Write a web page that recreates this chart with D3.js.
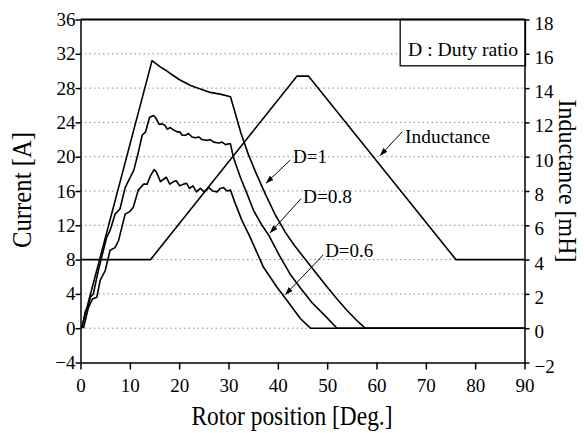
<!DOCTYPE html>
<html>
<head>
<meta charset="utf-8">
<script src="https://cdn.jsdelivr.net/npm/d3@7"></script>
<style>
      body { margin: 0; background: #fff; }
      svg { display: block; }
      text { font-family: "Liberation Serif", "Times New Roman", serif; }
</style>
</head>
<body>
<script>
// current curves, [rotor position deg, current A]
const dutyOne = [
      [0.2, 0], [14.5, 31.2], [16.1, 30.5], [17.5, 30.0], [18.2, 29.7], [20, 29.0],
      [22.3, 28.3], [24.3, 27.9], [26.3, 27.5], [28.3, 27.3], [30.4, 27.0],
      [31.5, 24.8], [32.5, 22.8], [34, 20.3], [35.5, 18.2], [37.5, 15.6], [39.5, 13.2],
      [41.5, 11.2], [43.3, 9.7], [45.2, 8.3], [47.5, 6.6], [50, 4.8], [52, 3.4],
      [54, 2.1], [56, 0.9], [57.7, 0], [90, 0]
];
const dutyEight = [
      [0.3, 0], [1.0, 2.0], [1.5, 2.5], [2.0, 3.6], [2.6, 4.0], [3.6, 6.7], [4.3, 8.3],
      [5.3, 10.6], [6.0, 11.4], [7.0, 13.3], [8.0, 13.9], [9.05, 16.4], [10.0, 17.5],
      [10.8, 18.4], [11.8, 20.7], [12.5, 22.5], [13.2, 22.9], [14.0, 24.6], [14.8, 24.8],
      [15.3, 24.5], [15.9, 23.8], [16.7, 23.8], [17.2, 23.6], [17.6, 23.2], [18.2, 23.4],
      [18.9, 23.1], [19.6, 22.9], [20.1, 22.9], [20.6, 22.5], [21.3, 22.5], [21.9, 22.7],
      [22.6, 22.3], [23.3, 22.2], [24.0, 22.3], [24.6, 22.0], [25.7, 21.9], [26.3, 22.0],
      [27.0, 21.7], [28.0, 21.6], [28.7, 21.7], [29.4, 21.4], [30.0, 21.5], [30.4, 21.5],
      [31.0, 19.9], [32.4, 17.6], [33.75, 15.7], [35.1, 13.7], [36.8, 12.0], [38.2, 10.8],
      [40.3, 8.5], [42.5, 6.3], [44.7, 4.6], [46.9, 3.0], [49.5, 1.5], [52, 0], [90, 0]
];
const dutySix = [
      [0.6, 0], [1.6, 2.4], [2.4, 3.4], [3.3, 3.6], [4.0, 5.6], [5.0, 6.7], [6.0, 9.1],
      [7.0, 9.4], [7.7, 10.2], [9.05, 13.3], [10.0, 13.6], [10.7, 14.1], [11.7, 16.1],
      [12.8, 16.8], [13.5, 16.8], [14.2, 17.8], [14.9, 18.5], [15.4, 18.2], [16.2, 17.1],
      [16.9, 17.4], [17.4, 17.6], [18.1, 16.8], [18.9, 17.1], [19.4, 17.2], [20.1, 16.6],
      [20.9, 16.8], [21.5, 16.9], [22.1, 16.3], [22.8, 16.6], [23.5, 15.9], [24.3, 16.3],
      [25.1, 15.9], [26.0, 16.4], [26.8, 16.0], [27.7, 15.9], [28.3, 16.3], [29.0, 16.4],
      [29.7, 16.0], [30.4, 16.1], [31.4, 14.5], [32.7, 12.6], [34.4, 10.6], [35.7, 8.9],
      [37.1, 7.1], [39.8, 4.8], [41.9, 3.2], [44.6, 1.1], [46.6, 0], [90, 0]
];
// inductance profile, [deg, mH]
const inductance = [[0, 4], [14.2, 4], [43.9, 14.7], [46.2, 14.7], [76.1, 4], [90, 4]];

const xTicks = [0, 10, 20, 30, 40, 50, 60, 70, 80, 90];
const currentTicks = [-4, 0, 4, 8, 12, 16, 20, 24, 28, 32, 36];
const inductanceTicks = [-2, 0, 2, 4, 6, 8, 10, 12, 14, 16, 18];
const gridValues = [0, 4, 8, 12, 16, 20, 24, 28, 32];

// labels with arrows, positions in [deg, A]
const notes = [
      {text: "D=1", at: [43.1, 19.3], from: [42.5, 19.6], to: [37.6, 16.9], len: 34},
      {text: "D=0.8", at: [45.1, 14.6], from: [44.7, 15.1], to: [38.4, 11.1], len: 49},
      {text: "D=0.6", at: [49.6, 8.3], from: [49.2, 8.55], to: [41.5, 3.9], len: 48},
      {text: "Inductance", at: [65.8, 21.6], from: [65.2, 22.9], to: [60.7, 20.1], len: 85}
];

const width = 584;
const height = 433;
const margin = {top: 19.5, right: 59.5, bottom: 70.5, left: 80.5};

const xScale = d3.scaleLinear()
      .domain([0, 90])
      .range([margin.left, width - margin.right]);
const yLeft = d3.scaleLinear()
      .domain([-4, 36])
      .range([height - margin.bottom, margin.top]);
const yRight = d3.scaleLinear()
      .domain([-2, 18])
      .range([height - margin.bottom, margin.top]);

const svg = d3.select("body")
      .append("svg")
      .attr("width", width)
      .attr("height", height);

// dotted grid
svg.append("g")
      .selectAll("line")
      .data(gridValues)
      .enter()
      .append("line")
      .attr("x1", xScale(0))
      .attr("x2", xScale(90))
      .attr("y1", d => yLeft(d))
      .attr("y2", d => yLeft(d))
      .attr("stroke", "#8a8a8a")
      .attr("stroke-width", 1)
      .attr("stroke-dasharray", "1.5,3");

// legend box
svg.append("rect")
      .attr("x", xScale(64.8))
      .attr("y", yLeft(36))
      .attr("width", xScale(90) - xScale(64.8) + 1)
      .attr("height", yLeft(30.6) - yLeft(36))
      .attr("fill", "#fff")
      .attr("stroke", "#000")
      .attr("stroke-width", 1.3);
svg.append("text")
      .attr("x", xScale(66.4))
      .attr("y", yLeft(31.8))
      .attr("font-size", 18)
      .attr("textLength", 110)
      .attr("lengthAdjust", "spacingAndGlyphs")
      .text("D : Duty ratio");

// axes
function minorAxis(axis, values, size) {
      return axis.tickValues(values).tickSize(size).tickSizeOuter(0).tickFormat("");
}

const bottom = svg.append("g")
      .attr("transform", `translate(0, ${yLeft(-4)})`);
bottom.call(minorAxis(d3.axisBottom(xScale), d3.range(5, 90, 10), 4));
bottom.call(d3.axisBottom(xScale).tickValues(xTicks).tickSize(7).tickSizeOuter(0).tickPadding(9));

const left = svg.append("g")
      .attr("transform", `translate(${xScale(0)}, 0)`);
left.call(minorAxis(d3.axisLeft(yLeft), d3.range(-2, 36, 4), 3));
left.call(d3.axisLeft(yLeft).tickValues(currentTicks).tickSize(5).tickSizeOuter(0).tickPadding(0));

const right = svg.append("g")
      .attr("transform", `translate(${xScale(90)}, 0)`);
right.call(minorAxis(d3.axisRight(yRight), d3.range(-1, 18, 2), 3));
right.call(d3.axisRight(yRight).tickValues(inductanceTicks).tickSize(5).tickSizeOuter(0).tickPadding(5));

svg.selectAll(".domain, .tick line")
      .attr("stroke", "#000")
      .attr("stroke-width", 1.5);
svg.selectAll("g").attr("font-family", null);
svg.selectAll(".tick text")
      .style("font-family", "'Liberation Serif', 'Times New Roman', serif")
      .style("font-size", "19px")
      .attr("fill", "#000");
right.selectAll(".tick text").attr("dy", "0.5em");

// top frame
svg.append("line")
      .attr("x1", xScale(0))
      .attr("x2", xScale(90))
      .attr("y1", yLeft(36))
      .attr("y2", yLeft(36))
      .attr("stroke", "#000")
      .attr("stroke-width", 2);

// curves
const currentLine = d3.line()
      .x(d => xScale(d[0]))
      .y(d => yLeft(d[1]));
const inductanceLine = d3.line()
      .x(d => xScale(d[0]))
      .y(d => yRight(d[1]));

[dutyOne, dutyEight, dutySix].forEach(series => {
      svg.append("path")
            .datum(series)
            .attr("fill", "none")
            .attr("stroke", "#000")
            .attr("stroke-width", 1.6)
            .attr("stroke-linejoin", "round")
            .attr("d", currentLine);
});
svg.append("path")
      .datum(inductance)
      .attr("fill", "none")
      .attr("stroke", "#000")
      .attr("stroke-width", 1.6)
      .attr("d", inductanceLine);

// arrows and labels
svg.append("defs")
      .append("marker")
      .attr("id", "head")
      .attr("viewBox", "0 0 10 10")
      .attr("refX", 10)
      .attr("refY", 5)
      .attr("markerWidth", 8)
      .attr("markerHeight", 8)
      .attr("markerUnits", "userSpaceOnUse")
      .attr("orient", "auto")
      .append("path")
      .attr("d", "M0,1.5L10,5L0,8.5Z")
      .attr("fill", "#000");

svg.append("g")
      .selectAll("line")
      .data(notes)
      .enter()
      .append("line")
      .attr("x1", d => xScale(d.from[0]))
      .attr("y1", d => yLeft(d.from[1]))
      .attr("x2", d => xScale(d.to[0]))
      .attr("y2", d => yLeft(d.to[1]))
      .attr("stroke", "#000")
      .attr("stroke-width", 1)
      .attr("marker-end", "url(#head)");

svg.append("g")
      .selectAll("text")
      .data(notes)
      .enter()
      .append("text")
      .attr("x", d => xScale(d.at[0]))
      .attr("y", d => yLeft(d.at[1]))
      .attr("font-size", 18)
      .attr("textLength", d => d.len)
      .attr("lengthAdjust", "spacingAndGlyphs")
      .text(d => d.text);

// axis titles
svg.append("text")
      .attr("x", 292)
      .attr("y", 425)
      .attr("text-anchor", "middle")
      .attr("font-size", 28)
      .attr("textLength", 201)
      .attr("lengthAdjust", "spacingAndGlyphs")
      .text("Rotor position [Deg.]");

svg.append("text")
      .attr("transform", "translate(31, 190) rotate(-90)")
      .attr("text-anchor", "middle")
      .attr("font-size", 28)
      .attr("textLength", 116)
      .attr("lengthAdjust", "spacingAndGlyphs")
      .text("Current [A]");

svg.append("text")
      .attr("transform", "translate(559, 181) rotate(90)")
      .attr("text-anchor", "middle")
      .attr("font-size", 26)
      .attr("textLength", 163)
      .attr("lengthAdjust", "spacingAndGlyphs")
      .text("Inductance [mH]");
</script>
</body>
</html>
